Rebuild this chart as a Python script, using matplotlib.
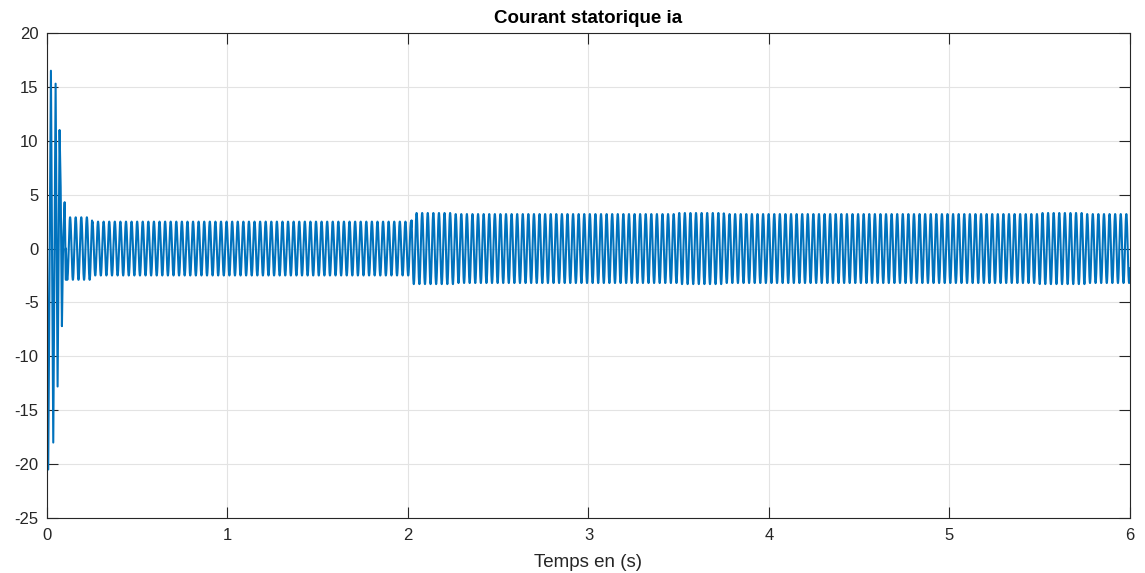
import numpy as np
import matplotlib

matplotlib.use("Agg")
import matplotlib.pyplot as plt

# start-up transient: successive extremes (s, A)
transient_t = [0.0, 0.007, 0.022, 0.035, 0.048, 0.059, 0.070, 0.076, 0.083, 0.090, 0.098, 0.105]
transient_i = [0.5, -20.5, 16.5, -18.0, 15.3, -12.8, 11.0, 5.7, -7.2, 1.0, 4.3, -2.9]

# steady part: stator frequency (about 32 Hz, counted from the strokes)
# and peak amplitude read per time segment
freq_hz = 32.3
segment_start = [0.105, 0.25, 0.5, 0.75, 1.0, 1.25, 1.5, 1.75, 2.02, 2.25, 2.5, 2.75,
                 3.0, 3.25, 3.5, 3.75, 4.0, 4.25, 4.5, 4.75, 5.0, 5.25, 5.5, 5.75]
segment_end = segment_start[1:] + [6.0]
segment_amp = [2.9, 2.5, 2.5, 2.5, 2.5, 2.5, 2.5, 2.5, 3.3, 3.2, 3.2, 3.2,
               3.2, 3.2, 3.3, 3.2, 3.2, 3.2, 3.2, 3.2, 3.2, 3.2, 3.3, 3.2]

xticks = [0, 1, 2, 3, 4, 5, 6]
yticks = [-25, -20, -15, -10, -5, 0, 5, 10, 15, 20]

plt.rcParams["font.family"] = ["Liberation Sans", "DejaVu Sans"]
plt.rcParams["axes.unicode_minus"] = False

fig = plt.figure(figsize=(11.45, 5.73), dpi=100)
ax = fig.add_axes([0.041, 0.096, 0.9459, 0.8464])

t_parts = [np.array(transient_t)]
i_parts = [np.array(transient_i)]
for t0, t1, amp in zip(segment_start, segment_end, segment_amp):
    t = np.arange(t0, t1, 2e-4)
    t_parts.append(t)
    i_parts.append(-amp * np.sin(2 * np.pi * freq_hz * (t - segment_start[0])))
t_all = np.concatenate(t_parts)
i_all = np.concatenate(i_parts)

ax.plot(t_all, i_all, color="#0072BD", lw=1.5)

ax.set_xlim(0, 6)
ax.set_ylim(-25, 20)
ax.set_xticks(xticks)
ax.set_yticks(yticks)
ax.grid(True, color="#e3e3e3", lw=0.8)
ax.set_axisbelow(True)
ax.tick_params(direction="in", length=8, width=0.8, top=True, right=True,
               colors="#262626", labelsize=12)
ax.tick_params(axis="x", pad=7)
ax.tick_params(axis="y", pad=6)
for s in ax.spines.values():
    s.set_color("#262626")
    s.set_linewidth(0.8)

ax.set_title("Courant statorique ia", fontsize=13.5, fontweight="bold", pad=7)
ax.set_xlabel("Temps en (s)", fontsize=13.5, color="#262626", labelpad=8)

fig.savefig("out.png", dpi=100)
